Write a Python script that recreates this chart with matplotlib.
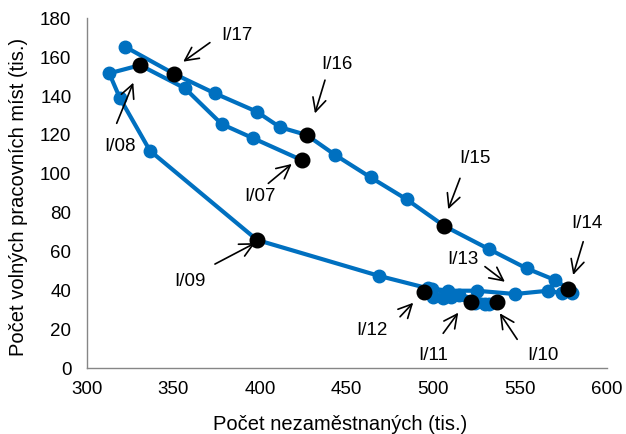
import matplotlib
matplotlib.use("Agg")
import matplotlib.pyplot as plt

plt.rcParams['font.family'] = ['Liberation Sans', 'DejaVu Sans']

# Beveridge curve, quarterly observations 2007-2017 (thousands)
periods = [
    'I/07', 'II/07', 'III/07', 'IV/07',
    'I/08', 'II/08', 'III/08', 'IV/08',
    'I/09', 'II/09', 'III/09', 'IV/09',
    'I/10', 'II/10', 'III/10', 'IV/10',
    'I/11', 'II/11', 'III/11', 'IV/11',
    'I/12', 'II/12', 'III/12', 'IV/12',
    'I/13', 'II/13', 'III/13', 'IV/13',
    'I/14', 'II/14', 'III/14', 'IV/14',
    'I/15', 'II/15', 'III/15', 'IV/15',
    'I/16', 'II/16', 'III/16', 'IV/16',
    'I/17', 'II/17',
]
unemployed = [
    424.0, 396.1, 377.9, 356.7,
    330.8, 313.0, 319.2, 336.5,
    398.3, 468.8, 497.1, 515.0,
    536.5, 532.0, 529.8, 524.0,
    521.5, 510.2, 505.4, 500.0,
    494.8, 499.0, 508.6, 525.0,
    547.1, 566.3, 574.0, 579.8,
    577.9, 570.2, 553.8, 532.3,
    506.3, 484.6, 463.8, 443.4,
    426.9, 411.5, 398.1, 374.0,
    350.5, 322.1,
]
vacancies = [
    107.1, 118.3, 125.6, 144.0,
    155.9, 151.7, 138.9, 111.9,
    66.0, 47.5, 41.1, 37.5,
    33.9, 33.0, 33.1, 33.5,
    34.3, 36.5, 36.0, 36.8,
    39.4, 41.0, 39.9, 39.9,
    38.2, 39.9, 38.6, 38.6,
    40.8, 45.4, 51.4, 61.2,
    73.2, 86.9, 98.2, 109.7,
    120.0, 124.0, 132.0, 141.4,
    151.4, 165.4,
]
highlighted = ['I/07', 'I/08', 'I/09', 'I/10', 'I/11', 'I/12',
               'I/14', 'I/15', 'I/16', 'I/17']

# label text position, arrow tail, arrow head (data units)
callouts = {
    'I/17': ((386.5, 171.4), (371.1, 167.5), (355.7, 157.7)),
    'I/16': ((444.2, 156.0), (437.5, 148.2), (431.7, 131.1)),
    'I/08': ((319.2, 114.3), (317.3, 126.0), (326.9, 146.9)),
    'I/07': ((400.0, 88.1), (404.8, 95.1), (418.3, 105.1)),
    'I/09': ((359.6, 44.4), (374.0, 53.6), (397.1, 64.4)),
    'I/15': ((524.0, 108.1), (515.4, 97.7), (508.6, 81.8)),
    'I/14': ((588.8, 74.6), (586.5, 65.1), (580.7, 48.0)),
    'I/13': ((517.3, 55.7), (529.8, 52.3), (541.3, 44.5)),
    'I/12': ((464.6, 19.2), (480.8, 26.5), (488.4, 33.7)),
    'I/11': ((499.8, 6.8), (505.7, 18.0), (514.4, 28.6)),
    'I/10': ((563.3, 6.8), (548.4, 14.9), (538.4, 28.3)),
}

fig = plt.figure(figsize=(6.26, 4.34), dpi=100)
ax = fig.add_axes([0.1385, 0.1514, 0.8305, 0.8064])

blue = '#0070C0'
ax.plot(unemployed, vacancies, color=blue, lw=3.0, marker='o',
        markersize=9, markerfacecolor=blue, markeredgecolor=blue, zorder=2)

hx = [unemployed[periods.index(p)] for p in highlighted]
hy = [vacancies[periods.index(p)] for p in highlighted]
ax.plot(hx, hy, linestyle='none', marker='o', markersize=10.5,
        color='black', zorder=3)

for label, (txt, tail, head) in callouts.items():
    ax.annotate('', xy=head, xytext=tail,
                arrowprops=dict(arrowstyle='->', color='black', lw=1.2,
                                mutation_scale=24, shrinkA=0, shrinkB=0),
                zorder=4)
    ax.text(txt[0], txt[1], label, fontsize=13.5, ha='center', va='center',
            color='black', zorder=4)

ax.set_xlim(300, 600)
ax.set_ylim(0, 180)
ax.set_xticks(range(300, 601, 50))
ax.set_yticks(range(0, 181, 20))
ax.tick_params(length=0, labelsize=13.5, colors='black')
ax.tick_params(axis='x', pad=9)
ax.tick_params(axis='y', pad=11)

for side in ('top', 'right'):
    ax.spines[side].set_visible(False)
for side in ('left', 'bottom'):
    ax.spines[side].set_color('#868686')
    ax.spines[side].set_linewidth(1.0)

ax.set_xlabel('Počet nezaměstnaných (tis.)', fontsize=14.5)
ax.xaxis.set_label_coords(0.488, -0.1606)
ax.xaxis.label.set_va('center')
ax.set_ylabel('Počet volných pracovních míst (tis.)', fontsize=14.5)
ax.yaxis.set_label_coords(-0.131, 0.49)
ax.yaxis.label.set_va('center')

fig.savefig('out.png', dpi=100)
